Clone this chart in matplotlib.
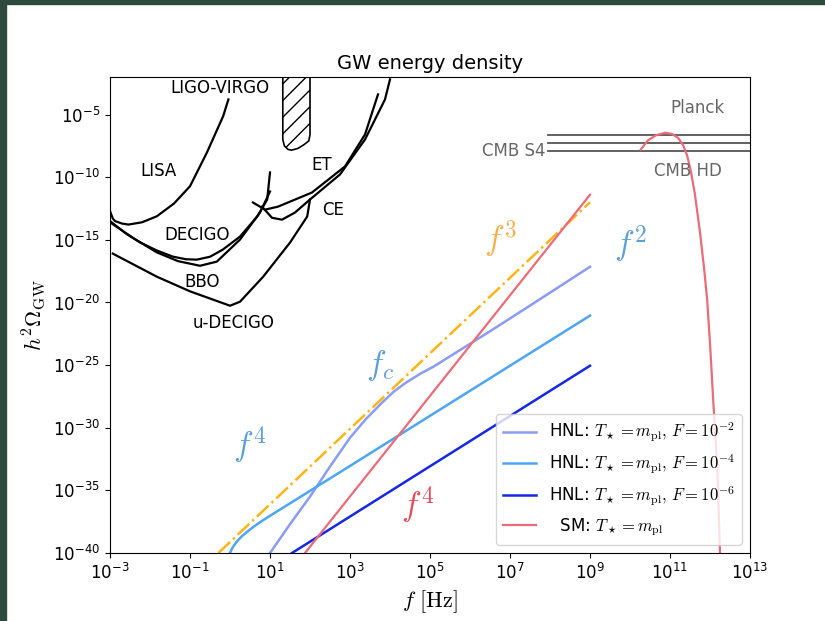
import numpy as np
import matplotlib
matplotlib.use("Agg")
import matplotlib.pyplot as plt
from matplotlib.patches import Rectangle

# values are log10(f/Hz) and log10(h^2 Omega)
orange_f = [-0.29, 9.0]
orange_om = [-40.0, -12.0]

sm_f = [1.875, 9.0]
sm_om = [-40.0, -11.4]

sm_peak_f = [10.27, 10.45, 10.65, 10.88, 11.05, 11.2, 11.33, 11.43, 11.52, 11.62, 11.75, 11.85, 11.93, 12.01, 12.08, 12.13, 12.18, 12.25]
sm_peak_om = [-7.79, -7.05, -6.65, -6.45, -6.55, -6.85, -7.45, -8.3, -9.5, -11.3, -14.4, -17.2, -19.8, -23.8, -27.8, -30.4, -33.1, -40.0]

hnl2_f = [1.0, 1.5, 2.0, 2.5, 3.0, 3.4, 3.8, 4.1, 4.4, 4.75, 5.1, 5.5, 6.0, 6.5, 7.5, 9.0]
hnl2_om = [-40.0, -37.7, -35.5, -33.1, -30.8, -29.3, -28.0, -27.1, -26.4, -25.7, -25.1, -24.3, -23.3, -22.3, -20.25, -17.15]

hnl4_f = [0.0, 0.05, 0.1, 0.18, 0.3, 0.45, 0.6, 0.8, 1.0, 3.0, 5.0, 7.0, 9.0]
hnl4_om = [-40.0, -39.65, -39.4, -39.05, -38.65, -38.25, -37.88, -37.44, -37.03, -33.05, -29.05, -25.05, -21.05]

hnl6_f = [1.55, 9.0]
hnl6_om = [-40.0, -25.05]

# detector sensitivity curves
lisa_f = [-3.0, -2.93, -2.875, -2.7, -2.54, -2.2, -1.83, -1.4, -1.0, -0.58, -0.17, -0.04]
lisa_om = [-12.7, -13.3, -13.5, -13.7, -13.78, -13.6, -13.12, -12.1, -10.72, -8.05, -5.12, -3.79]

decigo_f = [-3.0, -2.6, -2.25, -1.83, -1.43, -1.1, -0.83, -0.5, -0.18, 0.25, 0.68, 0.93, 1.0]
decigo_om = [-13.5, -14.5, -15.2, -15.85, -16.34, -16.55, -16.58, -16.35, -15.78, -14.74, -13.14, -11.78, -9.62]

bbo_f = [-3.0, -2.4, -1.83, -1.3, -0.75, -0.33, 0.25, 0.75, 1.0]
bbo_om = [-13.6, -14.9, -16.0, -16.7, -17.07, -16.74, -14.98, -12.82, -11.14]

udecigo_f = [-2.93, -1.83, -1.0, -0.4, 0.0, 0.25, 0.83, 1.5, 1.93, 2.0]
udecigo_om = [-16.1, -17.94, -19.11, -19.8, -20.26, -19.94, -17.94, -15.22, -13.14, -11.78]

et_f = [0.575, 0.875, 1.2, 2.05, 2.875, 3.375, 3.7]
et_om = [-12.02, -12.59, -12.35, -11.22, -9.14, -6.59, -3.39]

ce_f = [0.8, 1.05, 1.3, 1.625, 2.0, 2.75, 3.375, 3.875, 4.0]
ce_om = [-12.35, -13.24, -13.39, -12.82, -11.78, -9.78, -6.99, -3.79, -2.19]

ligo_f = [1.32, 1.32, 1.36, 1.45, 1.54, 1.7, 1.85, 1.97, 2.0, 2.0]
ligo_om = [-1.0, -7.0, -7.5, -7.78, -7.84, -7.7, -7.4, -7.1, -6.6, -1.0]

cmb_levels = [-6.67, -7.25, -7.92]
cmb_start = 7.95

def p(a):
    return 10.0 ** np.array(a)

fig = plt.figure(figsize=(8.25, 6.21), dpi=100)
ax = fig.add_axes([110/825, 68/621, 640/825, 476/621])

# dark edge of the video frame
fig.patches.append(Rectangle((0, 0), 6/825, 1, transform=fig.transFigure, color='#2e4a3f', zorder=-1))
fig.patches.append(Rectangle((0, 1-4/621), 1, 4/621, transform=fig.transFigure, color='#2e4a3f', zorder=-1))

sens = [(lisa_f, lisa_om), (decigo_f, decigo_om), (bbo_f, bbo_om),
        (udecigo_f, udecigo_om), (et_f, et_om), (ce_f, ce_om)]
for sf, so in sens:
    ax.plot(p(sf), p(so), color='black', lw=1.6)

ax.fill(p(ligo_f), p(ligo_om), facecolor='none', edgecolor='black', hatch='//', lw=1.2)

for lev in cmb_levels:
    ax.plot([10**cmb_start, 1e13], [10**lev, 10**lev], color='#555555', lw=1.3)

ax.plot(p(orange_f), p(orange_om), color='#fdb515', lw=1.8, ls='-.')
ax.plot(p(hnl2_f), p(hnl2_om), color='#8a9cf6', lw=1.8, label=r'HNL: $T_\star=m_{\rm pl},\, F=10^{-2}$')
ax.plot(p(hnl4_f), p(hnl4_om), color='#4da6f5', lw=1.8, label=r'HNL: $T_\star=m_{\rm pl},\, F=10^{-4}$')
ax.plot(p(hnl6_f), p(hnl6_om), color='#1428e6', lw=1.8, label=r'HNL: $T_\star=m_{\rm pl},\, F=10^{-6}$')
ax.plot(p(sm_f), p(sm_om), color='#ec6b78', lw=1.6, label=r'  SM: $T_\star=m_{\rm pl}$')
ax.plot(p(sm_peak_f), p(sm_peak_om), color='#ec6b78', lw=1.6)

# detector names
ax.text(10**-0.25, 10**-2.9, 'LIGO-VIRGO', fontsize=12, ha='center', va='center')
ax.text(10**-1.8, 10**-9.54, 'LISA', fontsize=12, ha='center', va='center')
ax.text(10**-0.83, 10**-14.58, 'DECIGO', fontsize=12, ha='center', va='center')
ax.text(10**-0.7, 10**-18.34, 'BBO', fontsize=12, ha='center', va='center')
ax.text(10**0.08, 10**-21.6, 'u-DECIGO', fontsize=12, ha='center', va='center')
ax.text(10**2.28, 10**-9.06, 'ET', fontsize=12, ha='center', va='center')
ax.text(10**2.58, 10**-12.58, 'CE', fontsize=12, ha='center', va='center')
ax.text(10**11.7, 10**-4.5, 'Planck', fontsize=12, ha='center', va='center', color='#666666')
ax.text(10**7.9, 10**-7.87, 'CMB S4', fontsize=12, ha='right', va='center', color='#666666')
ax.text(10**11.45, 10**-9.54, 'CMB HD', fontsize=12, ha='center', va='center', color='#666666')

# slope labels
ax.text(10**6.75, 10**-14.98, r'$f^3$', fontsize=24, color='#f5b04c', ha='center', va='center', math_fontfamily='cm')
ax.text(10**10.0, 10**-15.4, r'$f^2$', fontsize=24, color='#5a9fd8', ha='center', va='center', math_fontfamily='cm')
ax.text(10**3.75, 10**-25.0, r'$f_c$', fontsize=24, color='#5a9fd8', ha='center', va='center', math_fontfamily='cm')
ax.text(10**0.5, 10**-31.4, r'$f^4$', fontsize=24, color='#5a9fd8', ha='center', va='center', math_fontfamily='cm')
ax.text(10**4.7, 10**-36.2, r'$f^4$', fontsize=24, color='#e84a58', ha='center', va='center', math_fontfamily='cm')

ax.set_xscale('log')
ax.set_yscale('log')
ax.set_xlim(1e-3, 1e13)
ax.set_ylim(1e-40, 1e-2)
ax.set_xticks([10.0**k for k in range(-3, 14, 2)])
ax.set_yticks([10.0**k for k in range(-40, -4, 5)])
ax.xaxis.set_minor_locator(matplotlib.ticker.NullLocator())
ax.yaxis.set_minor_locator(matplotlib.ticker.NullLocator())
ax.tick_params(labelsize=12)

ax.set_title('GW energy density', fontsize=14)
ax.set_xlabel(r'$f\ [\rm Hz]$', fontsize=16, math_fontfamily='cm')
ax.set_ylabel(r'$h^2\Omega_{\rm GW}$', fontsize=16, math_fontfamily='cm')

leg = ax.legend(loc='lower right', fontsize=12)
for t in leg.get_texts():
    t.set_math_fontfamily('cm')

fig.savefig('out.png', dpi=100)
